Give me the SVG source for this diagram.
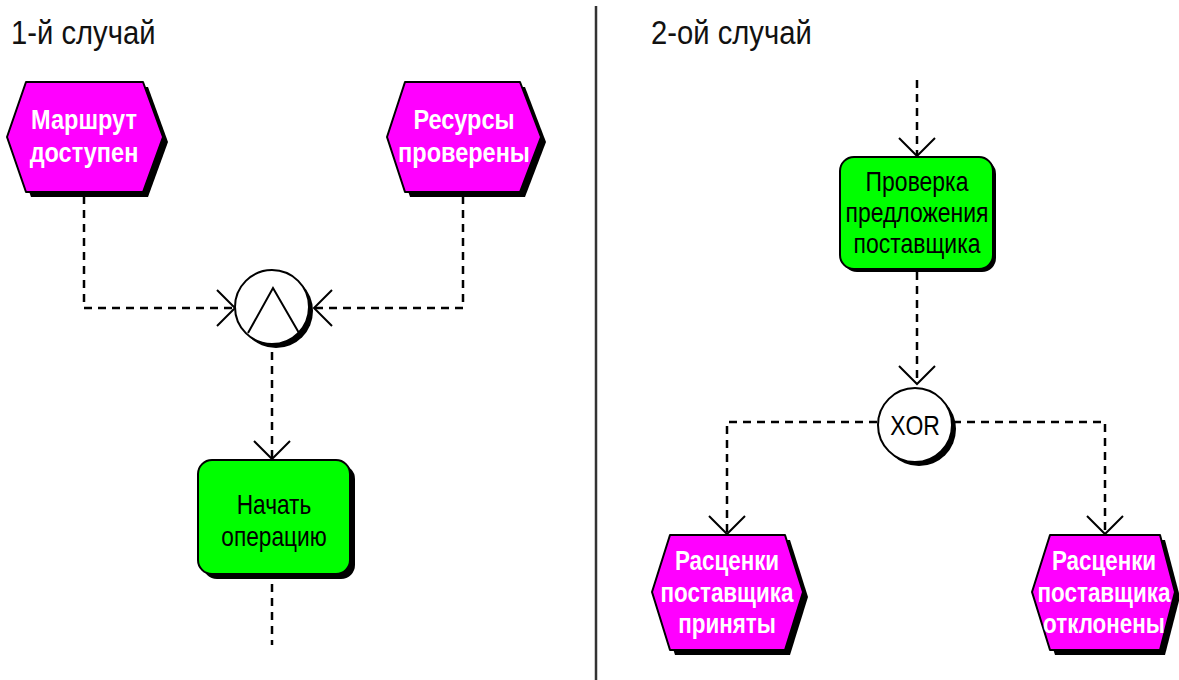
<svg xmlns="http://www.w3.org/2000/svg" width="1179" height="680" viewBox="0 0 1179 680">
  <style>
    .title { font-family: "Liberation Sans", Arial, sans-serif; font-size: 34px; fill: #111; }
    .event { fill: #ff00ff; stroke: #000; stroke-width: 2; stroke-linejoin: round; }
    .func { fill: #00ff00; stroke: #000; stroke-width: 2; }
    .shadow { fill: #000; }
    .gate { fill: #fff; stroke: #000; stroke-width: 2; }
    .etext { font-family: "Liberation Sans", Arial, sans-serif; font-weight: bold; font-size: 28px; fill: #fff; text-anchor: middle; }
    .ftext { font-family: "Liberation Sans", Arial, sans-serif; font-size: 28px; fill: #000; text-anchor: middle; }
    .flow { fill: none; stroke: #000; stroke-width: 2.5; stroke-dasharray: 8 6; }
    .head { fill: none; stroke: #000; stroke-width: 2; }
  </style>

  <!-- page titles and divider (text is narrowed horizontally to a condensed face) -->
  <text class="title" transform="matrix(0.86 0 0 1 11 0)" x="0" y="44">1-й случай</text>
  <text class="title" transform="matrix(0.86 0 0 1 651 0)" x="0" y="44">2-ой случай</text>
  <line x1="596" y1="6" x2="596" y2="680" stroke="#333" stroke-width="2.5"/>

  <!-- connectors -->
  <g id="connectors">
    <path class="flow" d="M84,196 V308 H233"/>
    <path class="flow" d="M463,196 V308 H314"/>
    <path class="flow" d="M272,352 V458"/>
    <path class="flow" d="M272,584 V645"/>
    <path class="flow" d="M917,80 V155"/>
    <path class="flow" d="M917,272 V384"/>
    <path class="flow" d="M877,422 H727 V533"/>
    <path class="flow" d="M953,422 H1105 V533"/>
    <!-- open arrowheads -->
    <path class="head" d="M217,290 L235,308 L217,326"/>
    <path class="head" d="M332,290 L314,308 L332,326"/>
    <path class="head" d="M254,441 L272,459 L290,441"/>
    <path class="head" d="M899,138 L917,156 L935,138"/>
    <path class="head" d="M899,366 L917,384 L935,366"/>
    <path class="head" d="M709,516 L727,534 L745,516"/>
    <path class="head" d="M1087,516 L1105,534 L1123,516"/>
  </g>

  <!-- events -->
  <g id="event-route">
    <polygon class="shadow" points="31,87 148,87 168,142 148,197 31,197 12,142"/>
    <polygon class="event" points="26,82 143,82 163,137 143,192 26,192 7,137"/>
    <text class="etext" transform="matrix(0.84 0 0 1 84 0)" x="0" y="129">Маршрут</text>
    <text class="etext" transform="matrix(0.84 0 0 1 84 0)" x="0" y="162">доступен</text>
  </g>
  <g id="event-resources">
    <polygon class="shadow" points="410,87 525,87 546,142 525,197 410,197 392,142"/>
    <polygon class="event" points="405,82 520,82 541,137 520,192 405,192 387,137"/>
    <text class="etext" transform="matrix(0.84 0 0 1 464 0)" x="0" y="129">Ресурсы</text>
    <text class="etext" transform="matrix(0.84 0 0 1 464 0)" x="0" y="162">проверены</text>
  </g>

  <!-- AND gate -->
  <g id="gate-and">
    <circle class="shadow" cx="276" cy="311" r="37"/>
    <circle class="gate" cx="272" cy="307" r="37"/>
    <path d="M248,333 L273,288 L299,333" fill="none" stroke="#000" stroke-width="2"/>
  </g>

  <!-- functions -->
  <g id="func-start">
    <rect class="shadow" x="203" y="465" width="152" height="114" rx="14"/>
    <rect class="func" x="198" y="460" width="152" height="114" rx="14"/>
    <text class="ftext" transform="matrix(0.81 0 0 1 274 0)" x="0" y="514">Начать</text>
    <text class="ftext" transform="matrix(0.81 0 0 1 274 0)" x="0" y="546">операцию</text>
  </g>
  <g id="func-check">
    <rect class="shadow" x="843" y="160" width="153" height="112" rx="14"/>
    <rect class="func" x="840" y="157" width="153" height="112" rx="14"/>
    <text class="ftext" transform="matrix(0.82 0 0 1 917 0)" x="0" y="191">Проверка</text>
    <text class="ftext" transform="matrix(0.82 0 0 1 917 0)" x="0" y="222">предложения</text>
    <text class="ftext" transform="matrix(0.82 0 0 1 917 0)" x="0" y="253">поставщика</text>
  </g>

  <!-- XOR gate -->
  <g id="gate-xor">
    <circle class="shadow" cx="919" cy="429" r="37"/>
    <circle class="gate" cx="915" cy="425" r="37"/>
    <text class="ftext" transform="matrix(0.82 0 0 1 915 0)" x="0" y="435">XOR</text>
  </g>

  <g id="event-accepted">
    <polygon class="shadow" points="675,540 790,540 808,597 790,655 675,655 657,597"/>
    <polygon class="event" points="670,535 785,535 803,592 785,650 670,650 652,592"/>
    <text class="etext" transform="matrix(0.8 0 0 1 727 0)" x="0" y="570">Расценки</text>
    <text class="etext" transform="matrix(0.8 0 0 1 727 0)" x="0" y="602">поставщика</text>
    <text class="etext" transform="matrix(0.8 0 0 1 727 0)" x="0" y="633">приняты</text>
  </g>
  <g id="event-rejected">
    <polygon class="shadow" points="1055,540 1165,540 1180,597 1165,655 1055,655 1037,597"/>
    <polygon class="event" points="1050,535 1160,535 1175,592 1160,650 1050,650 1032,592"/>
    <text class="etext" transform="matrix(0.8 0 0 1 1104 0)" x="0" y="570">Расценки</text>
    <text class="etext" transform="matrix(0.8 0 0 1 1104 0)" x="0" y="602">поставщика</text>
    <text class="etext" transform="matrix(0.8 0 0 1 1104 0)" x="0" y="633">отклонены</text>
  </g>
</svg>
